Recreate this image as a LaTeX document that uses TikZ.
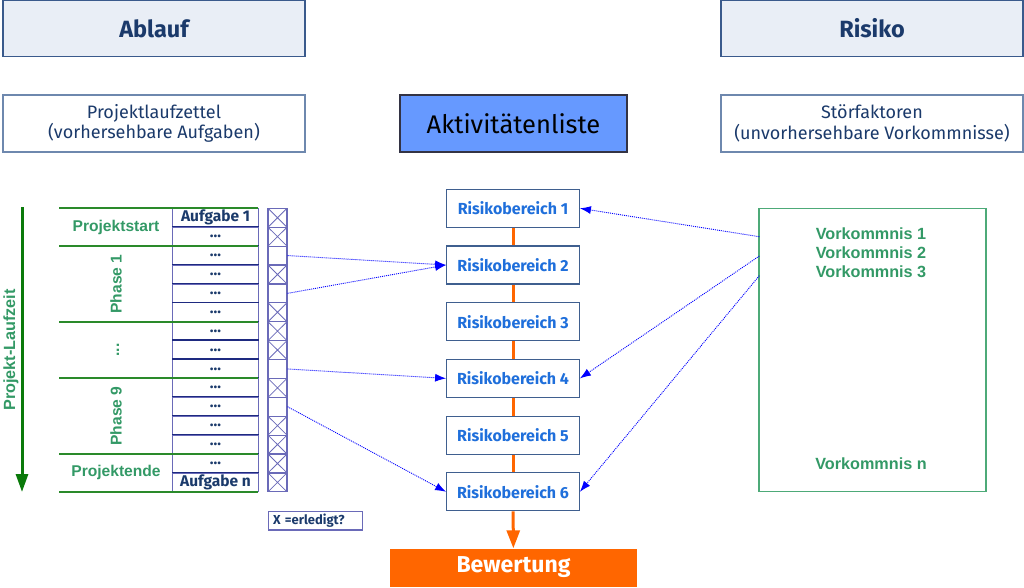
\documentclass[tikz,border=0pt]{standalone}
\usepackage{fontspec}
\setmainfont{Fira Sans}
\newfontfamily\arialf{Liberation Sans}
\usetikzlibrary{arrows.meta}

\definecolor{navy}{HTML}{1B3A6B}
\definecolor{hdrfill}{HTML}{E9EEF6}
\definecolor{hdrdraw}{HTML}{3A5A8C}
\definecolor{boxdraw}{HTML}{6E88AE}
\definecolor{aktfill}{HTML}{6699FF}
\definecolor{aktdraw}{HTML}{333344}
\definecolor{rbtext}{HTML}{1F6FDB}
\definecolor{rbdraw}{HTML}{3F5F8F}
\definecolor{tgreen}{HTML}{339966}
\definecolor{lgreen}{HTML}{2A8A2A}
\definecolor{dgreen}{HTML}{0A7A0A}
\definecolor{bgreen}{HTML}{4DAA78}
\definecolor{cellv}{HTML}{6A6AB8}
\definecolor{celln}{HTML}{1E2A80}
\definecolor{orng}{HTML}{FF6600}
\definecolor{dblue}{HTML}{0000FF}

\begin{document}
\begin{tikzpicture}[x=1pt,y=-1pt,
  hdr/.style={draw=hdrdraw, fill=hdrfill, line width=1.2pt, minimum width=302pt, minimum height=56pt, inner sep=0pt, text=navy, font=\fontsize{23.5}{26}\selectfont\bfseries},
  sub/.style={draw=boxdraw, fill=white, line width=1.2pt, minimum width=302pt, minimum height=57pt, inner sep=0pt, text=navy, align=center, font=\fontsize{18}{20.5}\selectfont},
  rbox/.style={draw=rbdraw, fill=white, line width=1.2pt, minimum width=132.6pt, minimum height=38pt, inner sep=0pt, text=rbtext, font=\fontsize{16}{18}\selectfont\bfseries},
  cell/.style={draw=cellv, line width=1.2pt, minimum width=85.3pt, minimum height=18.9pt, inner sep=0pt, text=navy, font=\fontsize{15.5}{16}\selectfont\bfseries},
  chk/.style={draw=cellv, line width=1.2pt, minimum width=19pt, minimum height=18.9pt, inner sep=0pt},
  chkx/.style={chk, path picture={\draw[cellv, line width=0.8pt] (path picture bounding box.north west) -- (path picture bounding box.south east) (path picture bounding box.north east) -- (path picture bounding box.south west);}},
  glab/.style={text=tgreen, inner sep=0pt, align=center, font=\arialf\bfseries\fontsize{15.6}{19}\selectfont},
  dotarr/.style={dblue, line width=0.9pt, dash pattern=on 1pt off 1pt, -{Latex[length=11pt,width=8pt]}},
  oline/.style={orng, line width=3pt}
]
\useasboundingbox (0,0) rectangle (1024,587);

% header boxes
\node[hdr] (ablauf) at (154,28.6) {Ablauf};
\node[hdr] (risiko) at (872,28.6) {Risiko};
\node[sub] (plz) at (154,123.5) {Projektlaufzettel\\(vorhersehbare Aufgaben)};
\node[sub] (stf) at (872,123.5) {Störfaktoren\\(unvorhersehbare Vorkommnisse)};
\node[draw=aktdraw, fill=aktfill, line width=1.2pt, minimum width=227pt, minimum height=57pt, inner sep=0pt, font=\fontsize{25.5}{28}\selectfont] (akt) at (513.5,123.5) {Aktivitätenliste};

% task table
\foreach \i in {1,...,15} {
  \ifnum\i=1 \def\txt{Aufgabe 1}\else\ifnum\i=15 \def\txt{Aufgabe n}\else\def\txt{...}\fi\fi
  \node[cell] (t\i) at (215.5,{208.3+(\i-0.5)*18.9}) {\txt};
}
\foreach \i in {2,...,15} {
  \draw[celln, line width=1.2pt] (t\i.north west) -- (t\i.north east);
}
\foreach \i/\s in {1/chkx,2/chkx,3/chk,4/chkx,5/chk,6/chkx,7/chkx,8/chkx,9/chk,10/chkx,11/chk,12/chkx,13/chkx,14/chkx,15/chkx} {
  \node[\s] (c\i) at (277.5,{208.3+(\i-0.5)*18.9}) {};
}

% phase separators
\foreach \yy in {208.3,246.1,321.7,378.4,454.0,491.8} {
  \draw[lgreen, line width=2pt] (59,\yy) -- (258.2,\yy);
}

% phase labels
\node[glab] (ps) at (116,227) {Projektstart};
\node[glab, rotate=90] (p1) at (116,284) {Phase 1};
\node[glab, rotate=90] (pd) at (118,350) {...};
\node[glab, rotate=90] (p9) at (116,416) {Phase 9};
\node[glab] (pe) at (116,472) {Projektende};

% time arrow
\coordinate (ltop) at (22,207);
\coordinate (lbot) at (22,492);
\draw[dgreen, line width=3pt, -{Triangle[length=18pt,width=12pt]}] (ltop) -- (lbot);
\node[glab, rotate=90, font=\arialf\bfseries\fontsize{16.2}{19}\selectfont] (lz) at (11,350) {Projekt-Laufzeit};

% legend
\node[draw=cellv, line width=1.2pt, anchor=north west, text width=85pt, inner xsep=4.5pt, inner ysep=0pt, minimum height=18.6pt, align=left, text=navy, font=\fontsize{13}{14}\selectfont\bfseries] (leg) at (268,510.7) {X =erledigt?};

% risk areas
\foreach \i in {1,...,6} {
  \node[rbox] (rb\i) at (513,{208.3+(\i-1)*56.7}) {Risikobereich \i};
}
\foreach \i/\j in {1/2,2/3,3/4,4/5,5/6} {
  \draw[oline] (rb\i) -- (rb\j);
}
\node[fill=orng, minimum width=247pt, minimum height=38pt, inner sep=0pt, text=white, font=\fontsize{23}{26}\selectfont\bfseries] (bew) at (513.5,567.5) {Bewertung};
\draw[oline, -{Triangle[length=18pt,width=13pt]}] (rb6) -- (bew);

% incidents box
\node[draw=bgreen, line width=1.5pt, minimum width=227pt, minimum height=283.4pt, inner sep=0pt] (vk) at (872.3,350) {};
\node[glab, font=\arialf\bfseries\fontsize{16.2}{19}\selectfont] (v13) at (871,253) {Vorkommnis 1\\Vorkommnis 2\\Vorkommnis 3};
\node[glab, font=\arialf\bfseries\fontsize{16.2}{19}\selectfont] (vn) at (871,464) {Vorkommnis n};

\coordinate (s1) at (759.3,236.7);
\coordinate (s2) at (759.3,256);
\coordinate (s3) at (759.3,275.7);

% dotted arrows
\draw[dotarr] (s1) -- (rb1.east);
\draw[dotarr] (s2) -- (rb4.east);
\draw[dotarr] (s3) -- (rb6.east);
\draw[dotarr] (c3.east) -- (rb2.west);
\draw[dotarr] (c5.east) -- (rb2.west);
\draw[dotarr] (c9.east) -- (rb4.west);
\draw[dotarr] (c11.east) -- (rb6.west);
\end{tikzpicture}
\end{document}
